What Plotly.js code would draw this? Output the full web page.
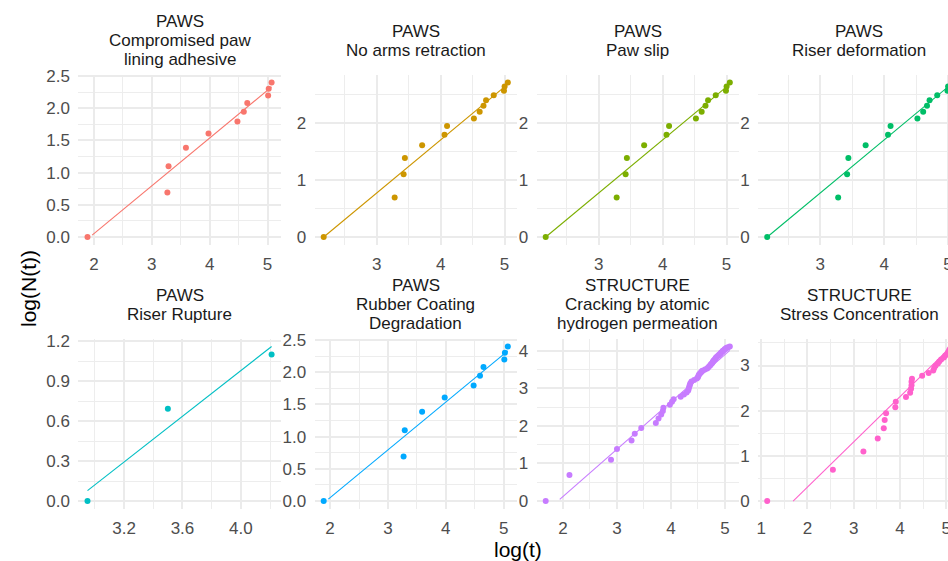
<!DOCTYPE html>
<html><head><meta charset="utf-8">
<script src="https://cdn.plot.ly/plotly-3.0.1.min.js"></script>
<style>html,body{margin:0;padding:0;overflow:hidden;background:#fff;}#chart{width:966px;height:561px;}</style>
</head><body><div id="chart"></div>
<script>
// ---------- data ----------
const stripTitles = [
  "PAWS<br>Compromised paw<br>lining adhesive",
  "PAWS<br>No arms retraction",
  "PAWS<br>Paw slip",
  "PAWS<br>Riser deformation",
  "PAWS<br>Riser Rupture",
  "PAWS<br>Rubber Coating<br>Degradation",
  "STRUCTURE<br>Cracking by atomic<br>hydrogen permeation",
  "STRUCTURE<br>Stress Concentration"
];
const panelColors = ["#F8766D","#CD9600","#7CAE00","#00BE67","#00BFC4","#00A9FF","#C77CFF","#FF61CC"];

// log(t) and log(N(t)) per failure mode
const xCompromised = [1.89,3.27,3.29,3.59,3.98,4.48,4.59,4.65,5.01,5.02,5.07];
const yCompromised = [0,0.693,1.099,1.386,1.609,1.792,1.946,2.079,2.197,2.303,2.398];
const xNoArms = [2.17,3.28,3.42,3.44,3.71,4.06,4.10,4.52,4.61,4.67,4.71,4.83,4.99,5.00,5.05];
const yNoArms = [0,0.693,1.099,1.386,1.609,1.792,1.946,2.079,2.197,2.303,2.398,2.485,2.565,2.639,2.708];
const xPawSlip = [2.17,3.28,3.42,3.44,3.71,4.06,4.10,4.52,4.61,4.67,4.71,4.83,4.99,5.00,5.05];
const yPawSlip = [0,0.693,1.099,1.386,1.609,1.792,1.946,2.079,2.197,2.303,2.398,2.485,2.565,2.639,2.708];
const xRiserDef = [2.17,3.28,3.42,3.44,3.71,4.06,4.10,4.52,4.61,4.67,4.71,4.83,4.99,5.00,5.05];
const yRiserDef = [0,0.693,1.099,1.386,1.609,1.792,1.946,2.079,2.197,2.303,2.398,2.485,2.565,2.639,2.708];
const xRiserRup = [2.95,3.50,4.21];
const yRiserRup = [0,0.693,1.099];
const xRubber = [1.89,3.27,3.29,3.59,3.98,4.48,4.59,4.65,5.01,5.02,5.07];
const yRubber = [0,0.693,1.099,1.386,1.609,1.792,1.946,2.079,2.197,2.303,2.398];
const xCracking = [1.68,2.12,2.89,3.00,3.27,3.33,3.45,3.72,3.77,3.82,3.85,3.86,3.98,4.02,4.05,4.18,4.24,4.29,4.32,4.33,
  4.34,4.35,4.36,4.38,4.43,4.48,4.50,4.51,4.52,4.54,4.56,4.58,4.63,4.67,4.69,4.71,4.73,4.74,4.76,4.77,
  4.78,4.79,4.81,4.82,4.83,4.84,4.86,4.88,4.89,4.91,4.92,4.93,4.95,4.96,4.97,4.99,5.00,5.02,5.03,5.06,5.09];
const yCracking = [0,0.693,1.099,1.386,1.609,1.792,1.946,2.079,2.197,2.303,2.398,2.485,2.565,2.639,2.708,2.773,2.833,2.890,2.944,2.996,
  3.045,3.091,3.135,3.178,3.219,3.258,3.296,3.332,3.367,3.401,3.434,3.466,3.497,3.526,3.555,3.584,3.611,3.638,3.664,3.689,
  3.714,3.738,3.761,3.784,3.807,3.829,3.850,3.871,3.892,3.912,3.932,3.951,3.970,3.989,4.007,4.025,4.043,4.060,4.078,4.094,4.111];
const xStress = [1.13,2.55,3.21,3.52,3.65,3.67,3.70,3.90,3.91,4.13,4.22,4.24,4.25,4.25,4.26,4.48,4.62,4.72,4.74,4.77,
  4.82,4.85,4.89,4.95,4.98,5.02,5.04,5.06,5.08,5.11];
const yStress = [0,0.693,1.099,1.386,1.609,1.792,1.946,2.079,2.197,2.303,2.398,2.485,2.565,2.639,2.708,2.773,2.833,2.890,2.944,2.996,
  3.045,3.091,3.135,3.178,3.219,3.258,3.296,3.332,3.367,3.401];

// fitted-line end points (log(t), log(N(t)))
const fitXCompromised = [1.97,5.07], fitYCompromised = [0.03,2.33];
const fitXNoArms = [2.18,5.05], fitYNoArms = [0.01,2.68];
const fitXPawSlip = [2.18,5.05], fitYPawSlip = [0.01,2.68];
const fitXRiserDef = [2.18,5.05], fitYRiserDef = [0.01,2.68];
const fitXRiserRup = [2.95,4.21], fitYRiserRup = [0.078,1.159];
const fitXRubber = [1.97,5.07], fitYRubber = [0.03,2.33];
const fitXCracking = [1.94,5.09], fitYCracking = [0.045,4.01];
const fitXStress = [1.69,5.11], fitYStress = [0.0,3.42];

// tick values / labels
const xTicksA = [2,3,4,5], xLabelsA = ["2","3","4","5"], xMinorA = [1.5,2.5,3.5,4.5,5.5];
const xTicksB = [3,4,5], xLabelsB = ["3","4","5"], xMinorB = [2.5,3.5,4.5,5.5];
const xTicksC = [3.2,3.6,4.0], xLabelsC = ["3.2","3.6","4.0"], xMinorC = [3.0,3.4,3.8,4.2];
const xTicksD = [1,2,3,4,5], xLabelsD = ["1","2","3","4","5"], xMinorD = [0.5,1.5,2.5,3.5,4.5,5.5];
const yTicksA = [0,0.5,1,1.5,2,2.5], yLabelsA = ["0.0","0.5","1.0","1.5","2.0","2.5"], yMinorA = [0.25,0.75,1.25,1.75,2.25];
const yTicksB = [0,1,2], yLabelsB = ["0","1","2"], yMinorB = [-0.5,0.5,1.5,2.5];
const yTicksC = [0,0.3,0.6,0.9,1.2], yLabelsC = ["0.0","0.3","0.6","0.9","1.2"], yMinorC = [0.15,0.45,0.75,1.05];
const yTicksD = [0,1,2,3,4], yLabelsD = ["0","1","2","3","4"], yMinorD = [-0.5,0.5,1.5,2.5,3.5,4.5];

// ---------- layout geometry ----------
const W = 966, H = 561;
const colLeft = [78.3, 314.5, 536.5, 758], panelW = 202.5;
const rowTop = [74.8, 338.8], panelH = 170;
const FONT = "Liberation Sans, Arial, sans-serif";
const STRIP_LINE = 19;

const panels = [
  {x:xCompromised,y:yCompromised,fx:fitXCompromised,fy:fitYCompromised,xt:xTicksA,xl:xLabelsA,xm:xMinorA,yt:yTicksA,yl:yLabelsA,ym:yMinorA},
  {x:xNoArms,y:yNoArms,fx:fitXNoArms,fy:fitYNoArms,xt:xTicksB,xl:xLabelsB,xm:xMinorB,yt:yTicksB,yl:yLabelsB,ym:yMinorB},
  {x:xPawSlip,y:yPawSlip,fx:fitXPawSlip,fy:fitYPawSlip,xt:xTicksB,xl:xLabelsB,xm:xMinorB,yt:yTicksB,yl:yLabelsB,ym:yMinorB},
  {x:xRiserDef,y:yRiserDef,fx:fitXRiserDef,fy:fitYRiserDef,xt:xTicksB,xl:xLabelsB,xm:xMinorB,yt:yTicksB,yl:yLabelsB,ym:yMinorB},
  {x:xRiserRup,y:yRiserRup,fx:fitXRiserRup,fy:fitYRiserRup,xt:xTicksC,xl:xLabelsC,xm:xMinorC,yt:yTicksC,yl:yLabelsC,ym:yMinorC},
  {x:xRubber,y:yRubber,fx:fitXRubber,fy:fitYRubber,xt:xTicksA,xl:xLabelsA,xm:xMinorA,yt:yTicksA,yl:yLabelsA,ym:yMinorA},
  {x:xCracking,y:yCracking,fx:fitXCracking,fy:fitYCracking,xt:xTicksA,xl:xLabelsA,xm:xMinorA,yt:yTicksD,yl:yLabelsD,ym:yMinorD},
  {x:xStress,y:yStress,fx:fitXStress,fy:fitYStress,xt:xTicksD,xl:xLabelsD,xm:xMinorD,yt:yTicksB.concat([3]),yl:yLabelsB.concat(["3"]),ym:yMinorD}
];

function expandRange(a, b) {
  const lo = Math.min(...a, ...b), hi = Math.max(...a, ...b);
  const pad = (hi - lo) * 0.05;
  return [lo - pad, hi + pad];
}

const traces = [], layout = {
  width: W, height: H, margin: {l:0, r:0, t:0, b:0},
  paper_bgcolor: "#fff", plot_bgcolor: "#fff", showlegend: false,
  font: {family: FONT}, annotations: []
};

panels.forEach((p, i) => {
  const n = i + 1, col = i % 4, row = Math.floor(i / 4);
  const xa = n === 1 ? "x" : "x" + n, ya = n === 1 ? "y" : "y" + n;
  const left = colLeft[col], top = rowTop[row];
  const gridCommon = {
    showgrid: true, gridcolor: "#EBEBEB", gridwidth: 2, zeroline: false, showline: false,
    ticks: "outside", ticklen: 4, tickcolor: "#FFFFFF", fixedrange: true,
    tickfont: {family: FONT, size: 17, color: "#4D4D4D"}, tickmode: "array"
  };
  layout["xaxis" + (n === 1 ? "" : n)] = Object.assign({}, gridCommon, {
    domain: [left / W, (left + panelW) / W], anchor: ya,
    range: expandRange(p.x, p.fx), tickvals: p.xt, ticktext: p.xl,
    minor: {tickmode: "array", tickvals: p.xm, showgrid: true, gridcolor: "#EDEDED", gridwidth: 1, ticks: ""}
  });
  layout["yaxis" + (n === 1 ? "" : n)] = Object.assign({}, gridCommon, {
    domain: [1 - (top + panelH) / H, 1 - top / H], anchor: xa,
    range: expandRange(p.y, p.fy), tickvals: p.yt, ticktext: p.yl,
    minor: {tickmode: "array", tickvals: p.ym, showgrid: true, gridcolor: "#EDEDED", gridwidth: 1, ticks: ""}
  });
  traces.push({type: "scatter", mode: "markers", x: p.x, y: p.y, xaxis: xa, yaxis: ya,
    marker: {color: panelColors[i], size: 6}, cliponaxis: false, hoverinfo: "skip"});
  traces.push({type: "scatter", mode: "lines", x: p.fx, y: p.fy, xaxis: xa, yaxis: ya,
    line: {color: panelColors[i], width: 1.1}, hoverinfo: "skip"});
  const lines = stripTitles[i].split("<br>");
  lines.forEach((ln, j) => {
    const cy = (top - 34) + STRIP_LINE * (j - (lines.length - 1) / 2);
    layout.annotations.push({
      text: ln, xref: "paper", yref: "paper",
      x: (left + panelW / 2) / W, y: 1 - cy / H, xanchor: "center", yanchor: "middle",
      showarrow: false, align: "center", font: {family: FONT, size: 17, color: "#1A1A1A"}
    });
  });
});

layout.annotations.push({text: "log(N(t))", xref: "paper", yref: "paper", x: 28 / W, y: 1 - 289 / H,
  textangle: -90, xanchor: "center", yanchor: "middle", showarrow: false,
  font: {family: FONT, size: 21, color: "#000"}});
layout.annotations.push({text: "log(t)", xref: "paper", yref: "paper", x: 518 / W, y: 1 - 549 / H,
  xanchor: "center", yanchor: "middle", showarrow: false,
  font: {family: FONT, size: 21, color: "#000"}});

Plotly.newPlot("chart", traces, layout, {staticPlot: true, displayModeBar: false});
</script></body></html>
